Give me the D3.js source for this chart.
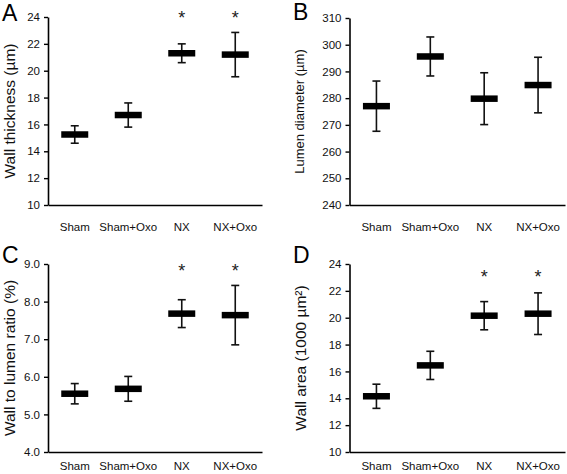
<!DOCTYPE html>
<html>
<head>
<meta charset="utf-8">
<script src="https://cdn.jsdelivr.net/npm/d3@7"></script>
<style>
  html, body { margin: 0; padding: 0; background: #fff; }
  svg { display: block; font-family: "Liberation Sans", Arial, Helvetica, sans-serif; }
</style>
</head>
<body>
<svg id="chart" width="567" height="474"></svg>
<script>
const categories = ["Sham", "Sham+Oxo", "NX", "NX+Oxo"];

const wallThicknessMean = [15.25, 16.7, 21.3, 21.2];
const wallThicknessErr  = [0.65, 0.9, 0.7, 1.65];
const wallThicknessSig  = [false, false, true, true];
const wallThicknessTicks = [10, 12, 14, 16, 18, 20, 22, 24];

const lumenMean = [277.0, 295.6, 279.8, 284.9];
const lumenErr  = [9.4, 7.3, 9.7, 10.4];
const lumenSig  = [false, false, false, false];
const lumenTicks = [240, 250, 260, 270, 280, 290, 300, 310];

const ratioMean = [5.55, 5.68, 7.68, 7.64];
const ratioErr  = [0.27, 0.33, 0.37, 0.79];
const ratioSig  = [false, false, true, true];
const ratioTicks = [4, 5, 6, 7, 8, 9];

const wallAreaMean = [14.15, 16.45, 20.15, 20.3];
const wallAreaErr  = [0.9, 1.05, 1.05, 1.55];
const wallAreaSig  = [false, false, true, true];
const wallAreaTicks = [10, 12, 14, 16, 18, 20, 22, 24];

const panels = [
  { letter: "A", label: "Wall thickness (\u00b5m)", mean: wallThicknessMean, err: wallThicknessErr, sig: wallThicknessSig,
    ticks: wallThicknessTicks, fmt: d3.format("d"),
    box: { l: 48, r: 262, t: 17, b: 205 }, labelX: 14.5, labelSize: 15.5, letterXY: [2, 21], xLabY: 231, starY: 23.5 },
  { letter: "B", label: "Lumen diameter (\u00b5m)", mean: lumenMean, err: lumenErr, sig: lumenSig,
    ticks: lumenTicks, fmt: d3.format("d"),
    box: { l: 349.5, r: 565, t: 18, b: 205 }, labelX: 304, labelSize: 13, letterXY: [293, 20], xLabY: 231, starY: 23.5 },
  { letter: "C", label: "Wall to lumen ratio (%)", mean: ratioMean, err: ratioErr, sig: ratioSig,
    ticks: ratioTicks, fmt: d3.format(".1f"),
    box: { l: 48, r: 262, t: 264, b: 452 }, labelX: 14.5, labelSize: 15.5, letterXY: [2, 263], xLabY: 470, starY: 277 },
  { letter: "D", label: "Wall area (1000 \u00b5m\u00b2)", mean: wallAreaMean, err: wallAreaErr, sig: wallAreaSig,
    ticks: wallAreaTicks, fmt: d3.format("d"),
    box: { l: 349.5, r: 565, t: 264, b: 452 }, labelX: 306, labelSize: 15.5, letterXY: [293, 263], xLabY: 470, starY: 283 }
];

const svg = d3.select("#chart");

panels.forEach(p => {
  const g = svg.append("g");
  const x = d3.scaleBand().domain(categories).range([p.box.l, p.box.r]).padding(0);
  const y = d3.scaleLinear().domain(d3.extent(p.ticks)).range([p.box.b, p.box.t]);

  // y axis
  const yAxis = d3.axisLeft(y).tickValues(p.ticks).tickFormat(p.fmt).tickSize(4).tickSizeOuter(0).tickPadding(4);
  const ya = g.append("g").attr("transform", `translate(${p.box.l},0)`).call(yAxis);
  ya.select(".domain").attr("stroke", "#000").attr("stroke-width", 1.6);
  ya.selectAll(".tick line").attr("stroke", "#000").attr("stroke-width", 1.4);
  ya.selectAll(".tick text").attr("font-size", "11.5px").attr("fill", "#111")
    .attr("font-family", "'Liberation Sans', Arial, sans-serif");

  // x axis line
  const xAxis = d3.axisBottom(x).tickSize(0).tickSizeOuter(0).tickPadding(0);
  const xa = g.append("g").attr("transform", `translate(0,${p.box.b})`).call(xAxis);
  xa.select(".domain").attr("stroke", "#000").attr("stroke-width", 1.6);
  xa.selectAll(".tick text").attr("font-size", "11.5px").attr("fill", "#111")
    .attr("font-family", "'Liberation Sans', Arial, sans-serif")
    .attr("dy", 0).attr("y", p.xLabY - p.box.b);

  // y label
  g.append("text")
    .attr("transform", `translate(${p.labelX},${(p.box.t + p.box.b) / 2}) rotate(-90)`)
    .attr("text-anchor", "middle")
    .attr("font-size", p.labelSize + "px")
    .attr("fill", "#111")
    .text(p.label);

  // panel letter
  g.append("text")
    .attr("x", p.letterXY[0]).attr("y", p.letterXY[1])
    .attr("font-size", "23px").attr("fill", "#000")
    .text(p.letter);

  const data = categories.map((c, i) => ({ c, m: p.mean[i], e: p.err[i], s: p.sig[i] }));
  const cx = d => x(d.c) + x.bandwidth() / 2;
  const capW = 8, barW = 27, barH = 6.5;

  // error bars
  g.selectAll(".err").data(data).enter().append("line")
    .attr("x1", cx).attr("x2", cx)
    .attr("y1", d => y(d.m + d.e)).attr("y2", d => y(d.m - d.e))
    .attr("stroke", "#111").attr("stroke-width", 1.6);
  g.selectAll(".capT").data(data).enter().append("line")
    .attr("x1", d => cx(d) - capW / 2).attr("x2", d => cx(d) + capW / 2)
    .attr("y1", d => y(d.m + d.e)).attr("y2", d => y(d.m + d.e))
    .attr("stroke", "#111").attr("stroke-width", 1.6);
  g.selectAll(".capB").data(data).enter().append("line")
    .attr("x1", d => cx(d) - capW / 2).attr("x2", d => cx(d) + capW / 2)
    .attr("y1", d => y(d.m - d.e)).attr("y2", d => y(d.m - d.e))
    .attr("stroke", "#111").attr("stroke-width", 1.6);

  // mean bars
  g.selectAll(".mean").data(data).enter().append("rect")
    .attr("x", d => cx(d) - barW / 2).attr("width", barW)
    .attr("y", d => y(d.m) - barH / 2).attr("height", barH)
    .attr("fill", "#000");

  // significance stars
  g.selectAll(".star").data(data.filter(d => d.s)).enter().append("text")
    .attr("x", cx).attr("y", p.starY)
    .attr("text-anchor", "middle").attr("font-size", "18px").attr("fill", "#222")
    .text("*");
});
</script>
</body>
</html>
